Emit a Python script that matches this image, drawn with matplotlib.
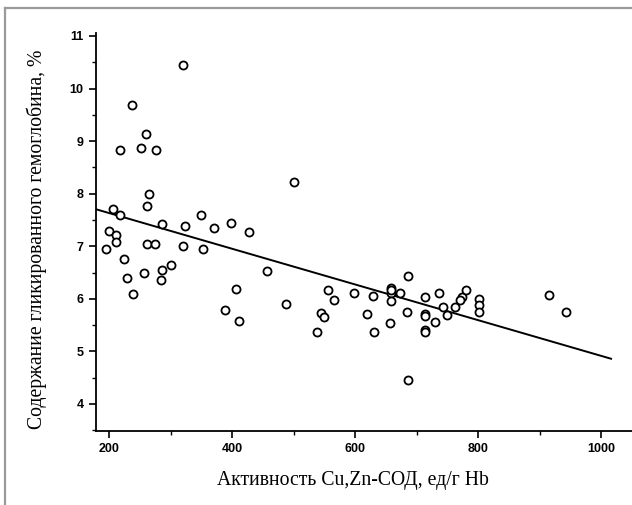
import numpy as np
import matplotlib
matplotlib.use("Agg")
import matplotlib.pyplot as plt
from matplotlib.lines import Line2D
from matplotlib.ticker import MultipleLocator

# activity Cu,Zn-SOD (x) vs glycated haemoglobin, % (y)
sod = [321, 237, 260, 252, 218, 277, 501, 265, 261, 206, 218, 349, 399, 286,
       324, 370, 428, 200, 212, 212, 261, 274, 321, 195, 352, 225, 300, 286,
       457, 257, 230, 285, 239, 406, 487, 388, 411, 686, 556, 565, 599, 629,
       658, 658, 658, 673, 620, 544, 550, 538, 630, 656, 685, 713, 713, 713,
       713, 737, 743, 730, 749, 763, 773, 771, 781, 801, 801, 801, 915, 942,
       686, 658, 713]
hba1c = [10.45, 9.68, 9.14, 8.87, 8.83, 8.83, 8.22, 8.00, 7.77, 7.70, 7.60,
         7.60, 7.44, 7.43, 7.38, 7.35, 7.27, 7.29, 7.22, 7.08, 7.05, 7.05,
         7.01, 6.95, 6.94, 6.75, 6.65, 6.54, 6.53, 6.50, 6.40, 6.36, 6.10,
         6.18, 5.91, 5.78, 5.57, 6.43, 6.16, 5.98, 6.12, 6.06, 6.20, 6.12,
         5.95, 6.12, 5.71, 5.73, 5.65, 5.36, 5.36, 5.54, 5.75, 6.03, 5.71,
         5.40, 5.68, 6.12, 5.85, 5.55, 5.69, 5.85, 6.03, 5.97, 6.17, 6.00,
         5.89, 5.75, 6.08, 5.75, 4.46, 6.16, 5.36]

# regression line end points
trend_x = [180, 1016]
trend_y = [7.70, 4.86]

fig = plt.figure(figsize=(6.32, 5.05), dpi=100)
ax = fig.add_axes([0.152, 0.147, 0.848, 0.788])

ax.plot(trend_x, trend_y, color="black", lw=1.4)
ax.plot(sod, hba1c, "o", ms=5.8, mfc="white", mec="black", mew=1.3)

ax.set_xlim(179, 1050)
ax.set_ylim(3.49, 11.06)
ax.set_xticks([200, 400, 600, 800, 1000])
ax.set_yticks([4, 5, 6, 7, 8, 9, 10, 11])
ax.xaxis.set_minor_locator(MultipleLocator(100))
ax.yaxis.set_minor_locator(MultipleLocator(0.5))

for s in ["top", "right"]:
    ax.spines[s].set_visible(False)
for s in ["left", "bottom"]:
    ax.spines[s].set_linewidth(1.3)

ax.tick_params(which="major", direction="out", length=5, width=1.2, pad=4)
ax.tick_params(which="minor", direction="out", length=3, width=1.0)
for lab in ax.get_xticklabels() + ax.get_yticklabels():
    lab.set_fontfamily("Liberation Sans")
    lab.set_fontweight("bold")
    lab.set_fontsize(9)

ax.set_xlabel("Активность Cu,Zn-СОД, ед/г Hb", family="Liberation Serif",
              fontsize=14.2, labelpad=11)
ax.set_ylabel("Содержание гликированного гемоглобина, %", family="Liberation Serif",
              fontsize=14.2, labelpad=16)
ax.xaxis.label.set_x(0.479)
ax.yaxis.label.set_y(0.48)

# grey frame (top and left edges)
grey = "#9a9a9a"
fig.add_artist(Line2D([0.008, 1.0], [0.984, 0.984], color=grey, lw=1.6,
                      transform=fig.transFigure))
fig.add_artist(Line2D([0.008, 0.008], [0.0, 0.984], color=grey, lw=1.6,
                      transform=fig.transFigure))

fig.savefig("out.png", dpi=100)
